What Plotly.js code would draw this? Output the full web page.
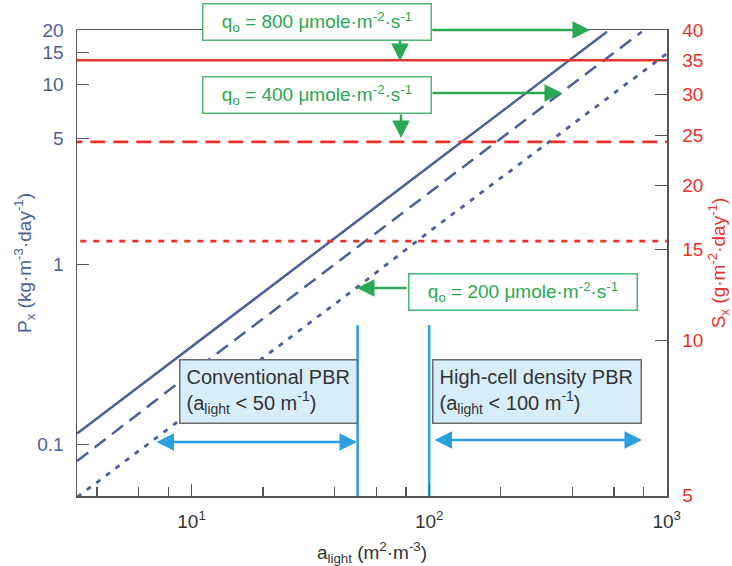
<!DOCTYPE html>
<html>
<head>
<meta charset="utf-8">
<script src="https://cdn.plot.ly/plotly-3.0.1.min.js"></script>
<style>html,body{margin:0;padding:0;background:#fff;}#chart{width:732px;height:566px;}</style>
</head>
<body>
<div id="chart"></div>
<script>
// ---- data ----
// P_x lines (left axis, kg m^-3 day^-1) vs a_light (m^2 m^-3)
const pSolidX  = [3.3, 10, 100, 560];
const pSolidY  = [0.115, 0.35, 3.5, 19.6];
const pDashX   = [3.3, 10, 100, 785];
const pDashY   = [0.081, 0.25, 2.5, 19.6];
const pDotX    = [3.3, 10, 49.3, 100, 1000];
const pDotY    = [0.051, 0.152, 0.74, 1.52, 14.8];
// S_x levels (right axis, g m^-2 day^-1)
const sSpanX   = [3, 1100];
const sLevel800 = 35;
const sLevel400 = 24.3;
const sLevel200 = 15.6;
// PBR boundaries (a_light)
const boundaryX = [50, 100];
const boundaryY = [0.46, 0.04];
// ticks
const xTickVals  = [10, 100, 1000];
const xTickText  = ['10<sup>1</sup>', '10<sup>2</sup>', '10<sup>3</sup>'];
const xMinorVals = [4, 6, 8, 20, 40, 60, 80, 200, 400, 600, 800];
const yTickVals  = [0.1, 1, 5, 10, 15, 20];
const yTickText  = ['0.1', '1', '5', '10', '15', '20'];
const y2TickVals = [5, 10, 15, 20, 25, 30, 35, 40];
const y2TickText = ['5', '10', '15', '20', '25', '30', '35', '40'];
// labels
const qLabels = ['800', '400', '200'];
const pbrLabels = ['Conventional PBR<br>(a<sub>light</sub> < 50 m<sup>-1</sup>)',
                   'High-cell density PBR<br>(a<sub>light</sub> < 100 m<sup>-1</sup>)'];

// ---- styles ----
const FONT = 'Liberation Sans, Arial, sans-serif';
const BLUEGREY = '#4d5f93';
const RED = '#e8322b';
const GREEN = '#2aa853';
const GREENBORDER = '#4cb871';
const SKY = '#2b9fe0';
const AXIS = '#555555';

// pixel -> paper helpers (plot area 77..667 x 30..496)
const L = 77, R = 667, T = 30, B = 496;
const PX = p => (p - L) / (R - L);
const PY = p => (B - p) / (B - T);

const traces = [
  {x: pSolidX, y: pSolidY, mode: 'lines', line: {color: BLUEGREY, width: 2.5}, yaxis: 'y'},
  {x: pDashX, y: pDashY, mode: 'lines', line: {color: BLUEGREY, width: 2.5, dash: '14px,8px'}, yaxis: 'y'},
  {x: pDotX, y: pDotY, mode: 'lines', line: {color: BLUEGREY, width: 2.8, dash: '5px,7px'}, yaxis: 'y'},
  {x: sSpanX, y: [sLevel800, sLevel800], mode: 'lines', line: {color: RED, width: 2.5}, yaxis: 'y2'},
  {x: sSpanX, y: [sLevel400, sLevel400], mode: 'lines', line: {color: RED, width: 2.8, dash: '15px,8px'}, yaxis: 'y2'},
  {x: sSpanX, y: [sLevel200, sLevel200], mode: 'lines', line: {color: RED, width: 2.8, dash: '6px,7px'}, yaxis: 'y2'},
  {x: [boundaryX[0], boundaryX[0]], y: boundaryY, mode: 'lines', line: {color: SKY, width: 2.5}, yaxis: 'y'},
  {x: [boundaryX[1], boundaryX[1]], y: boundaryY, mode: 'lines', line: {color: SKY, width: 2.5}, yaxis: 'y'}
];

function qText(q) {
  return 'q<sub>o</sub> = ' + q + ' \u03bcmole\u00b7m<sup>-2</sup>\u00b7s<sup>-1</sup>';
}
function greenBox(q, cx, cy) {
  return {xref: 'paper', yref: 'paper', x: PX(cx), y: PY(cy), xanchor: 'center', yanchor: 'middle',
    text: qText(q), showarrow: false, font: {family: FONT, size: 19, color: GREEN},
    bgcolor: '#ffffff', bordercolor: GREENBORDER, borderwidth: 1.5, borderpad: 4,
    width: 219, height: 27};
}
function arrow(x0, y0, x1, y1, color, both) {
  const a = {xref: 'paper', yref: 'paper', x: PX(x1), y: PY(y1), ax: x0 - x1, ay: y0 - y1,
    text: '', showarrow: true, arrowhead: 2, arrowsize: 1.4, arrowwidth: 2.5, arrowcolor: color};
  if (both) { a.arrowside = 'end+start'; a.startarrowhead = 2; a.startarrowsize = 1.4; }
  return a;
}
function pbrBox(text, cx, cy, w) {
  return {xref: 'paper', yref: 'paper', x: PX(cx), y: PY(cy), xanchor: 'center', yanchor: 'middle',
    text: text, showarrow: false, align: 'left', font: {family: FONT, size: 20, color: '#333333'},
    bgcolor: '#d8edfa', bordercolor: '#6b6b6b', borderwidth: 1.5, borderpad: 6,
    width: w, height: 50};
}

const annotations = [
  arrow(431, 30, 590, 30, GREEN),
  arrow(400, 39, 400, 61, GREEN),
  arrow(431, 93, 562, 93, GREEN),
  arrow(401, 113, 401, 138, GREEN),
  arrow(408, 288, 357, 288, GREEN),
  greenBox(qLabels[0], 316.5, 21.5),
  greenBox(qLabels[1], 316.5, 95),
  greenBox(qLabels[2], 523, 291.5),
  pbrBox(pbrLabels[0], 268.5, 392, 164),
  pbrBox(pbrLabels[1], 537, 392, 195),
  arrow(155, 442, 357, 442, SKY, true),
  arrow(433, 440, 642, 440, SKY, true)
];

const layout = {
  width: 732, height: 566,
  margin: {l: L, r: 732 - R, t: T, b: 566 - B, pad: 0},
  paper_bgcolor: '#ffffff', plot_bgcolor: '#ffffff',
  showlegend: false,
  font: {family: FONT, size: 19, color: '#333333'},
  xaxis: {
    type: 'log', range: [0.518, 3.001], autorange: false,
    tickmode: 'array', tickvals: xTickVals, ticktext: xTickText,
    ticks: 'inside', ticklen: 12, tickwidth: 1.3, tickcolor: AXIS,
    minor: {tickmode: 'array', tickvals: xMinorVals, ticks: 'inside', ticklen: 9, tickwidth: 1.3, tickcolor: AXIS, showgrid: false},
    showgrid: false, zeroline: false, showline: true, linecolor: AXIS, linewidth: 1.5, mirror: true,
    tickfont: {family: FONT, size: 19, color: '#333333'}, ticklabelstandoff: 8,
    title: {text: 'a<sub>light</sub> (m<sup>2</sup>\u00b7m<sup>-3</sup>)', font: {family: FONT, size: 19, color: '#333333'}, standoff: 15}
  },
  yaxis: {
    type: 'log', range: [-1.286, 1.302], autorange: false,
    tickmode: 'array', tickvals: yTickVals, ticktext: yTickText,
    ticks: 'inside', ticklen: 12, tickwidth: 1.3, tickcolor: AXIS,
    showgrid: false, zeroline: false, showline: true, linecolor: AXIS, linewidth: 1.5,
    tickfont: {family: FONT, size: 19, color: BLUEGREY}, ticklabelstandoff: 8,
    title: {text: 'P<sub>x</sub> (kg\u00b7m<sup>-3</sup>\u00b7day<sup>-1</sup>)', font: {family: FONT, size: 19, color: BLUEGREY}, standoff: 0}
  },
  yaxis2: {
    type: 'log', range: [0.698, 1.603], autorange: false, overlaying: 'y', side: 'right',
    tickmode: 'array', tickvals: y2TickVals, ticktext: y2TickText,
    ticks: 'inside', ticklen: 12, tickwidth: 1.3, tickcolor: AXIS,
    showgrid: false, zeroline: false, showline: true, linecolor: AXIS, linewidth: 1.5,
    tickfont: {family: FONT, size: 19, color: RED}, ticklabelstandoff: 10,
    title: {text: 'S<sub>x</sub> (g\u00b7m<sup>-2</sup>\u00b7day<sup>-1</sup>)', font: {family: FONT, size: 19, color: RED}, standoff: 17}
  },
  annotations: annotations
};

Plotly.newPlot('chart', traces, layout, {displayModeBar: false, staticPlot: true});
</script>
</body>
</html>
